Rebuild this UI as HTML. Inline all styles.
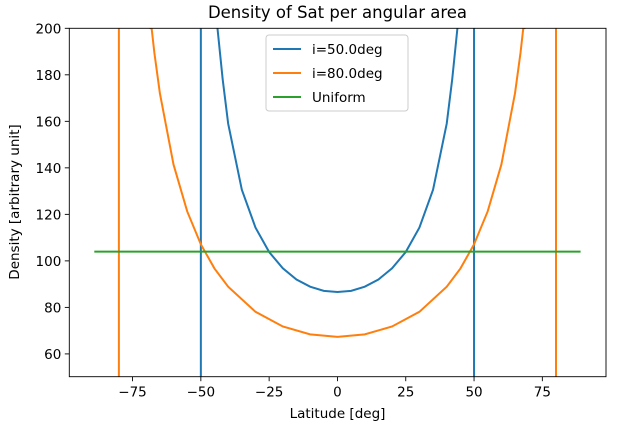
<!DOCTYPE html>
<html><head><meta charset="utf-8"><style>
html,body{margin:0;padding:0;background:#fff;overflow:hidden;width:627px;height:430px;}
svg{display:block;overflow:hidden;}
svg text{font-family:"DejaVu Sans","Liberation Sans",sans-serif;fill:#000;}
</style></head><body>
<svg width="627" height="430" viewBox="0 0 627 430">
<defs><clipPath id="pc"><rect x="69.3" y="28.3" width="536.7" height="348.4"/></clipPath></defs>
<rect x="0" y="0" width="627" height="430" fill="#fff"/>
<g id="series" clip-path="url(#pc)"></g>
<rect x="69.3" y="28.3" width="536.7" height="348.4" fill="none" stroke="#000" stroke-width="0.9"/>
<g id="xt"></g>
<g id="yt"></g>
<text x="337.5" y="18" font-size="16.5" text-anchor="middle">Density of Sat per angular area</text>
<text x="337.5" y="418" font-size="13.5" text-anchor="middle">Latitude [deg]</text>
<text transform="translate(19,202) rotate(-90)" font-size="13.5" text-anchor="middle">Density [arbitrary unit]</text>
<g>
<rect x="266" y="35" width="142" height="76" rx="3" fill="#fff" fill-opacity="0.8" stroke="#ccc" stroke-width="1"/>
<line x1="273" y1="49" x2="301" y2="49" stroke="#1f77b4" stroke-width="2"/>
<text x="312" y="54" font-size="13.5">i=50.0deg</text>
<line x1="273" y1="73" x2="301" y2="73" stroke="#ff7f0e" stroke-width="2"/>
<text x="312" y="78" font-size="13.5">i=80.0deg</text>
<line x1="273" y1="97" x2="301" y2="97" stroke="#2ca02c" stroke-width="2"/>
<text x="312" y="102" font-size="13.5">Uniform</text>
</g>
</svg>
<script>
const lat50 = [-90,-50,-50,-49.5,-48,-45,-44,-42,-40,-35,-30,-25,-20,-15,-10,-5,0,5,10,15,20,25,30,35,40,42,44,45,48,49.5,50,50,90];
const dens50 = [0,0,3000,715,357,225,205,178,159,130.6,114.3,103.8,96.8,92.0,88.9,87.1,86.6,87.1,88.9,92.0,96.8,103.8,114.3,130.6,159,178,205,225,357,715,3000,0,0];
const lat80 = [-90,-80,-80,-75,-70,-68,-67,-65,-60,-55,-50,-45,-40,-30,-20,-10,0,10,20,30,40,45,50,55,60,65,67,68,70,75,80,80,90];
const dens80 = [0,0,3000,400,225,199.8,189.4,172.1,141.4,121.3,107.1,96.7,88.9,78.1,71.8,68.4,67.3,68.4,71.8,78.1,88.9,96.7,107.1,121.3,141.4,172.1,189.4,199.8,225,400,3000,0,0];
const latU = [-89,89];
const densU = [104,104];
const xTicks = [-75,-50,-25,0,25,50,75];
const yTicks = [60,80,100,120,140,160,180,200];
const X0=69.3,X1=606,XMIN=-98.15,XMAX=98.3,Y0=376.7,Y1=28.3,YMIN=50.2,YMAX=200;
function xs(v){return X0+(v-XMIN)/(XMAX-XMIN)*(X1-X0);}
function ys(v){return Y0-(v-YMIN)/(YMAX-YMIN)*(Y0-Y1);}
function clampY(v){return Math.max(49.6,Math.min(v,201));}
const NS='http://www.w3.org/2000/svg';
const g=document.getElementById('series');
function line(xa,ya,color,name){
  const p=document.createElementNS(NS,'polyline');
  p.setAttribute('points',xa.map((x,i)=>xs(x).toFixed(2)+','+ys(clampY(ya[i])).toFixed(2)).join(' '));
  p.setAttribute('fill','none');p.setAttribute('stroke',color);p.setAttribute('stroke-width','2');
  
  
  g.appendChild(p);
}
line(lat50,dens50,'#1f77b4','series-i50');
line(lat80,dens80,'#ff7f0e','series-i80');
line(latU,densU,'#2ca02c','series-uniform');
const xt=document.getElementById('xt');
xTicks.forEach(t=>{
  const l=document.createElementNS(NS,'line');
  l.setAttribute('x1',xs(t));l.setAttribute('x2',xs(t));l.setAttribute('y1',Y0);l.setAttribute('y2',Y0+4.5);
  l.setAttribute('stroke','#000');l.setAttribute('stroke-width','0.9');
  
  
  xt.appendChild(l);
  const tx=document.createElementNS(NS,'text');
  tx.setAttribute('x',xs(t));tx.setAttribute('y',Y0+20);tx.setAttribute('font-size','13.5');tx.setAttribute('text-anchor','middle');
  tx.textContent=(t<0?'\u2212':'')+Math.abs(t);
  
  
  xt.appendChild(tx);
});
const yt=document.getElementById('yt');
yTicks.forEach(t=>{
  const l=document.createElementNS(NS,'line');
  l.setAttribute('x1',X0-4.5);l.setAttribute('x2',X0);l.setAttribute('y1',ys(t));l.setAttribute('y2',ys(t));
  l.setAttribute('stroke','#000');l.setAttribute('stroke-width','0.9');
  
  
  yt.appendChild(l);
  const tx=document.createElementNS(NS,'text');
  tx.setAttribute('x',X0-8);tx.setAttribute('y',ys(t)+5);tx.setAttribute('font-size','13.5');tx.setAttribute('text-anchor','end');
  tx.textContent=t;
  
  
  yt.appendChild(tx);
});
</script>
</body></html>
